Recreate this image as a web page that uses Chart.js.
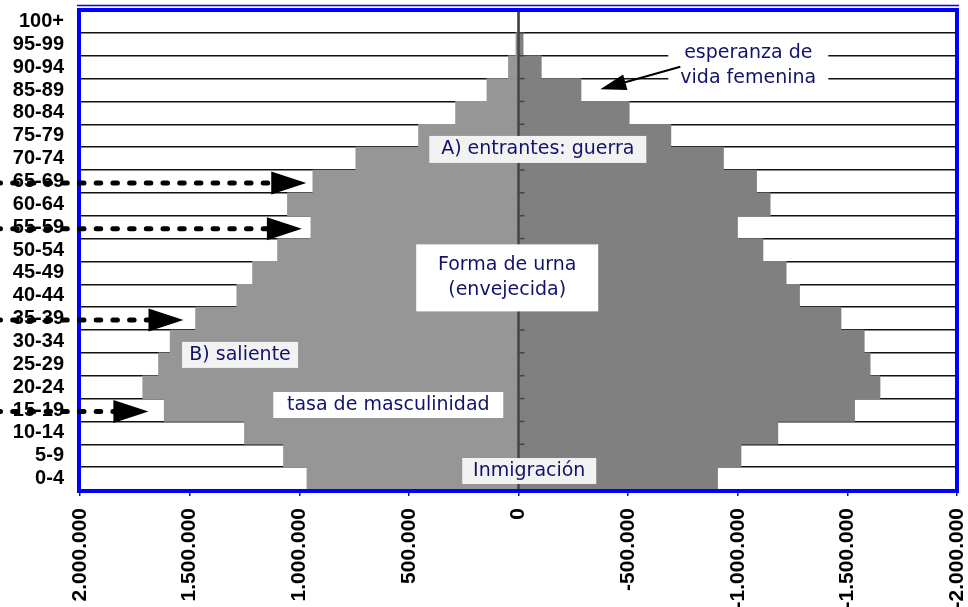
<!DOCTYPE html>
<html>
<head>
<meta charset="utf-8">
<script src="https://cdn.jsdelivr.net/npm/chart.js@4.4.0/dist/chart.umd.min.js"></script>
<style>
  html, body { margin: 0; padding: 0; background: #fff; }
  canvas { display: block; }
</style>
</head>
<body>
<canvas id="pyramid" width="968" height="607"></canvas>
<script>
// age groups, bottom (0-4) to top (100+)
const ageGroups = ['0-4', '5-9', '10-14', '15-19', '20-24', '25-29', '30-34', '35-39', '40-44', '45-49',
  '50-54', '55-59', '60-64', '65-69', '70-74', '75-79', '80-84', '85-89', '90-94', '95-99', '100+']

// men on the left (positive), women on the right (negative)
const maleValues = [965000, 1072000, 1250000, 1616000, 1714000, 1642000, 1589000, 1473000, 1285000, 1213000,
  1099000, 947000, 1054000, 938000, 742000, 456000, 287000, 144000, 46000, 12000, 3000]
const femaleValues = [-908000, -1015000, -1183000, -1533000, -1649000, -1604000, -1577000, -1471000, -1282000, -1221000,
  -1115000, -999000, -1148000, -1086000, -935000, -695000, -505000, -285000, -104000, -21000, -4000]

const axisMin = -2000000
const axisMax = 2000000
const axisStep = 500000

// notes: anchored in data space (value on x, row index on y)
const notes = [
  { lines: ['A) entrantes: guerra'], value: -88000, row: 14.4, w: 217, h: 27, fill: '#f2f2f2' },
  { lines: ['esperanza de', 'vida femenina'], value: -1048000, row: 18.05, w: 160, h: 48, fill: '#ffffff' },
  { lines: ['Forma de urna', '(envejecida)'], value: 51500, row: 8.78, w: 182, h: 67, fill: '#ffffff' },
  { lines: ['B) saliente'], value: 1270000, row: 5.41, w: 116, h: 26, fill: '#f2f2f2' },
  { lines: ['tasa de masculinidad'], value: 594000, row: 3.22, w: 230, h: 26, fill: '#ffffff' },
  { lines: ['Inmigración'], value: -49000, row: 0.33, w: 134, h: 26, fill: '#f2f2f2' },
]
// dashed arrows coming from the left margin into the men's side
const dashedArrows = [
  { row: 13, tip: 968000 },
  { row: 11, tip: 988000 },
  { row: 7, tip: 1528000 },
  { row: 3, tip: 1688000 },
]
const lifeArrow = { from: [-738000, 18.02], to: [-373000, 17.03] }

const fmt = (v) => (v < 0 ? '-' : '') + String(Math.abs(v)).replace(/\B(?=(\d{3})+(?!\d))/g, '.')

const arrowHead = (ctx, x1, y1, x2, y2, len, half) => {
  const a = Math.atan2(y2 - y1, x2 - x1)
  const c = Math.cos(a)
  const s = Math.sin(a)
  ctx.beginPath()
  ctx.moveTo(x2, y2)
  ctx.lineTo(x2 - len * c + half * s, y2 - len * s - half * c)
  ctx.lineTo(x2 - len * c - half * s, y2 - len * s + half * c)
  ctx.closePath()
  ctx.fill()
}

const frame = {
  id: 'frame',
  afterDatasetsDraw (chart) {
    const { ctx, chartArea: a, scales } = chart
    const zx = scales.x.getPixelForValue(0)
    ctx.save()
    // category axis crossing at zero
    ctx.strokeStyle = '#444'
    ctx.lineWidth = 2.5
    ctx.beginPath()
    ctx.moveTo(zx, a.top)
    ctx.lineTo(zx, a.bottom)
    ctx.stroke()
    ctx.lineWidth = 1.5
    const step = (a.bottom - a.top) / ageGroups.length
    for (let i = 1; i < ageGroups.length; i++) {
      const y = a.top + i * step
      ctx.beginPath()
      ctx.moveTo(zx, y)
      ctx.lineTo(zx + 6, y)
      ctx.stroke()
    }
    // blue plot border
    ctx.strokeStyle = '#0000ff'
    ctx.lineWidth = 4
    ctx.strokeRect(a.left - 1, a.top, a.right - a.left + 1, a.bottom - a.top + 1)
    ctx.lineWidth = 1.5
    ctx.beginPath()
    ctx.moveTo(a.left - 3, a.top - 4.5)
    ctx.lineTo(a.right + 2, a.top - 4.5)
    ctx.stroke()
    ctx.restore()
  },
  afterDraw (chart) {
    const { ctx, scales } = chart
    const X = (v) => scales.x.getPixelForValue(v)
    const Y = (r) => scales.y.getPixelForValue(r)
    ctx.save()
    ctx.font = '19px "Comic Sans MS", "DejaVu Sans", sans-serif'
    ctx.textAlign = 'center'
    ctx.textBaseline = 'middle'
    notes.forEach((n) => {
      const cx = X(n.value)
      const cy = Y(n.row)
      ctx.fillStyle = n.fill
      ctx.fillRect(cx - n.w / 2, cy - n.h / 2, n.w, n.h)
      ctx.fillStyle = '#12126e'
      const lh = 25
      n.lines.forEach((t, i) => {
        ctx.fillText(t, cx, cy + (i - (n.lines.length - 1) / 2) * lh)
      })
    })

    // dashed arrows
    ctx.fillStyle = '#000'
    ctx.strokeStyle = '#000'
    dashedArrows.forEach((d) => {
      const y = Y(d.row) + 1.5
      const tx = X(d.tip)
      ctx.lineWidth = 5
      ctx.lineCap = 'round'
      ctx.setLineDash([4.5, 12.2])
      ctx.beginPath()
      ctx.moveTo(-4, y)
      ctx.lineTo(tx - 30, y)
      ctx.stroke()
      ctx.setLineDash([])
      arrowHead(ctx, 0, y, tx, y, 35, 11.5)
    })

    // life expectancy arrow
    const x1 = X(lifeArrow.from[0])
    const y1 = Y(lifeArrow.from[1])
    const x2 = X(lifeArrow.to[0])
    const y2 = Y(lifeArrow.to[1])
    ctx.lineWidth = 2
    ctx.lineCap = 'butt'
    ctx.beginPath()
    ctx.moveTo(x1, y1)
    ctx.lineTo(x2 + (x1 - x2) * 0.2, y2 + (y1 - y2) * 0.2)
    ctx.stroke()
    arrowHead(ctx, x1, y1, x2, y2, 26, 8)
    ctx.restore()
  },
}

new Chart(document.getElementById('pyramid'), {
  type: 'bar',
  data: {
    labels: ageGroups,
    datasets: [
      { label: 'Varones', data: maleValues, backgroundColor: '#969696', borderWidth: 0, barPercentage: 1, categoryPercentage: 1 },
      { label: 'Mujeres', data: femaleValues, backgroundColor: '#808080', borderWidth: 0, barPercentage: 1, categoryPercentage: 1 },
    ],
  },
  options: {
    indexAxis: 'y',
    responsive: false,
    animation: false,
    layout: { padding: { top: 10, right: 11, left: 0, bottom: 0 } },
    plugins: { legend: { display: false }, tooltip: { enabled: false } },
    scales: {
      x: {
        min: axisMin,
        max: axisMax,
        reverse: true,
        stacked: true,
        border: { display: false },
        grid: { drawOnChartArea: false, drawTicks: true, tickLength: 6, color: '#222', lineWidth: 1.5 },
        ticks: {
          stepSize: axisStep,
          minRotation: 90,
          maxRotation: 90,
          autoSkip: false,
          padding: 12,
          color: '#000',
          font: { family: '"Liberation Sans", Arial, sans-serif', size: 21, weight: 'bold' },
          callback: (v) => fmt(v),
        },
        afterFit: (s) => {
          s.height = 117
          s.paddingLeft = 0
          s.paddingRight = 0
        },
      },
      y: {
        reverse: true,
        stacked: true,
        border: { display: false },
        grid: { color: '#111', lineWidth: 1.5, drawTicks: false },
        ticks: {
          autoSkip: false,
          padding: 16,
          color: '#000',
          font: { family: '"Liberation Sans", Arial, sans-serif', size: 20, weight: 'bold' },
        },
        afterFit: (s) => {
          s.width = 80
          s.paddingTop = 0
          s.paddingBottom = 0
        },
      },
    },
  },
  plugins: [frame],
})
</script>
</body>
</html>
